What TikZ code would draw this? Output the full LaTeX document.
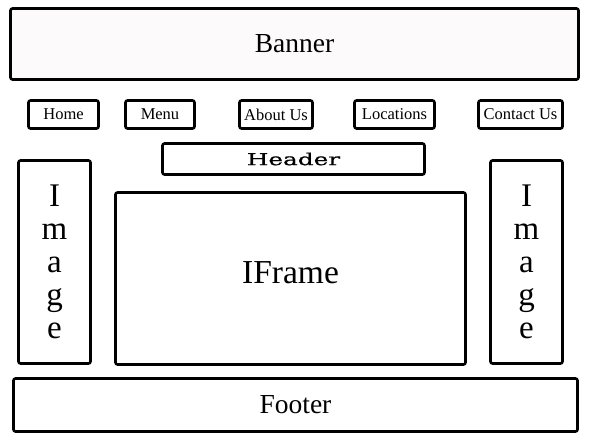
\documentclass[tikz,border=0pt]{standalone}
\usepackage{fontspec}
\usepackage{tikz}
\setmainfont{Liberation Serif}
\newfontfamily\headerfont[FakeStretch=1.5,FakeBold=0.8]{DejaVu Serif}
\definecolor{bannerfill}{RGB}{253,250,251}

\begin{document}
\begin{tikzpicture}[x=1pt,y=-1pt,line width=2.6pt,box/.style={draw=black,rounded corners=2pt,inner sep=0pt,outer sep=0pt}]
\tikzstyle{nav button} = [box,minimum height=28pt,font=\fontsize{16.5}{16.5}\selectfont]
\tikzstyle{side image} = [box,minimum width=72pt,minimum height=203pt,align=center,font=\fontsize{33}{33}\selectfont]

\useasboundingbox (0,0) rectangle (590,443);

% Banner
\node[box,fill=bannerfill,minimum width=568pt,minimum height=71pt,font=\fontsize{27.5}{27.5}\selectfont] (banner) at (294.5,44) {Banner};

% Navigation
\node[nav button,minimum width=70pt] (home) at (63.5,114.5) {Home};
\node[nav button,minimum width=69pt] (menu) at (160,114.5) {Menu};
\node[nav button,minimum width=73pt] (about) at (276,114.5) {About Us};
\node[nav button,minimum width=80pt] (locations) at (394.5,114.5) {Locations};
\node[nav button,minimum width=84pt] (contact) at (520.5,114.5) {Contact Us};

% Header
\node[box,minimum width=262pt,minimum height=31pt,font=\headerfont\fontsize{16.5}{16.5}\selectfont] (header) at (293.5,159) {Header};

% Images
\node[side image] (leftimage) at (54.5,262) {I\\m\\a\\g\\e};
\node[side image] (rightimage) at (526.5,262) {I\\m\\a\\g\\e};

% IFrame
\node[box,minimum width=350pt,minimum height=172pt] (iframe) at (290.5,278.5) {};
\node[font=\fontsize{33.5}{33.5}\selectfont] (iframetext) at ([yshift=6pt]iframe.center) {IFrame};

% Footer
\node[box,minimum width=564pt,minimum height=53pt,font=\fontsize{27.5}{27.5}\selectfont] (footer) at (295.5,405) {Footer};

\end{tikzpicture}
\end{document}
